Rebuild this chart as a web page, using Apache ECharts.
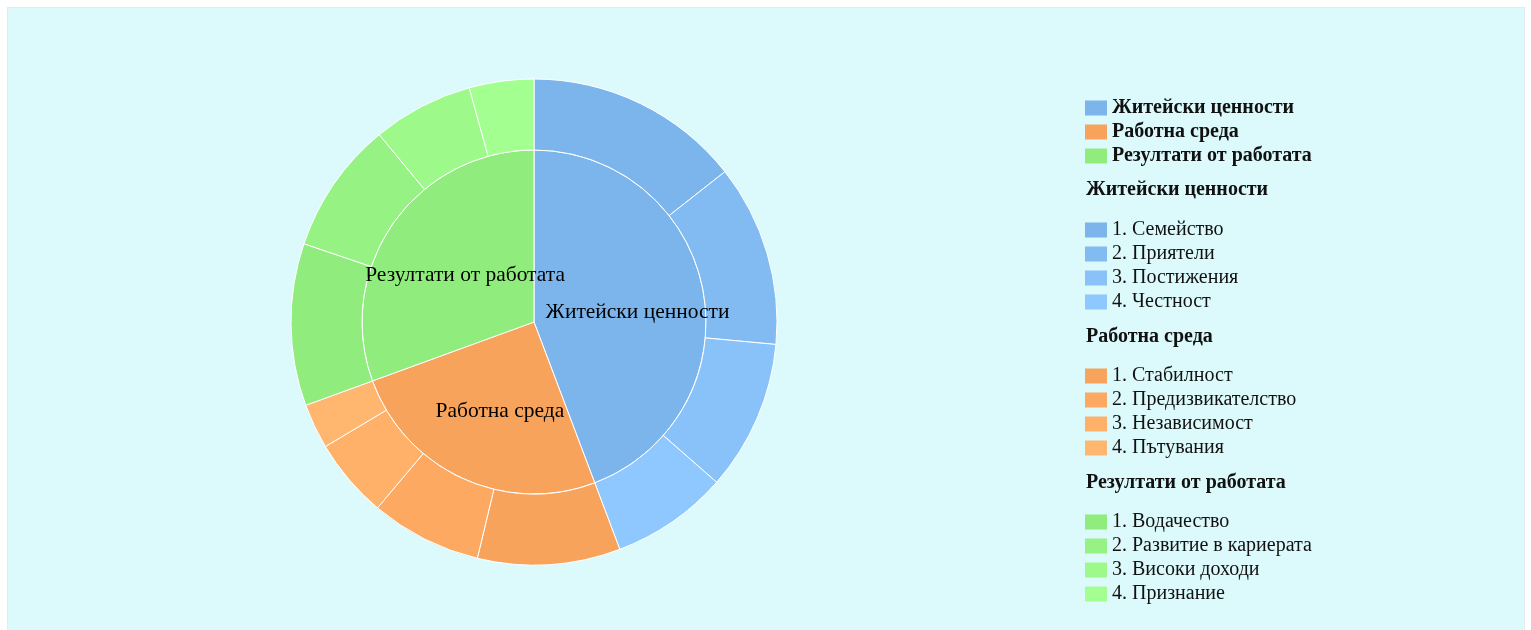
<!DOCTYPE html>
<html>
<head>
<meta charset="utf-8">
<script src="https://cdn.jsdelivr.net/npm/echarts@6/dist/echarts.min.js"></script>
<style>
    html, body { margin: 0; padding: 0; background: #fff; }
    #panel { position: absolute; left: 7px; top: 7px; width: 1516px; height: 640px;
             background: #dcfafc; border: 1px solid #e4ecee; }
    #chart { position: absolute; left: 0; top: 0; width: 1531px; height: 630px; }
</style>
</head>
<body>
<div id="panel"></div>
<div id="chart"></div>
<script>
// категории (вътрешен кръг)
var groupNames = ["Житейски ценности", "Работна среда", "Резултати от работата"];
var groupColors = ["#7cb5ec", "#f7a35c", "#90ed7d"];

// подкатегории (външен пръстен)
var subNames = [
    ["1. Семейство", "2. Приятели", "3. Постижения", "4. Честност"],
    ["1. Стабилност", "2. Предизвикателство", "3. Независимост", "4. Пътувания"],
    ["1. Водачество", "2. Развитие в кариерата", "3. Високи доходи", "4. Признание"]
];
var subValues = [
    [14.4, 12.1, 10.0, 7.8],
    [9.5, 7.4, 5.3, 3.0],
    [10.8, 8.8, 6.7, 4.3]
];

var FONT = "'Liberation Serif', 'DejaVu Serif', serif";

// изсветляване на цвета
var brighten = function(hex, step){
    var n = parseInt(hex.slice(1), 16);
    var rgb = [(n >> 16) & 255, (n >> 8) & 255, n & 255];
    var add = Math.round(255 * 0.025 * step);
    return "rgb(" + rgb.map(function(c){ return Math.min(255, c + add); }).join(",") + ")";
};

var innerData = [], outerData = [];
groupNames.forEach(function(g, i){
    var sum = 0;
    subValues[i].forEach(function(v, j){
        sum += v;
        outerData.push({ name: subNames[i][j], value: v, itemStyle: { color: brighten(groupColors[i], j) } });
    });
    innerData.push({ name: g, value: sum, itemStyle: { color: groupColors[i] } });
});

var legends = [{
    data: groupNames, top: 98, textStyle: { fontWeight: "bold" }
}];
var titles = [];
var headTops = [180, 327, 473];
var legendTops = [220, 366, 512];
groupNames.forEach(function(g, i){
    titles.push({ text: g, left: 1086, top: headTops[i], padding: 0,
        textStyle: { fontFamily: FONT, fontSize: 20, fontWeight: "bold", color: "#111", lineHeight: 20 } });
    legends.push({ data: subNames[i], top: legendTops[i] });
});
legends.forEach(function(l){
    l.orient = "vertical";
    l.left = 1085;
    l.padding = 0;
    l.itemWidth = 22;
    l.itemHeight = 15;
    l.itemGap = 4;
    l.icon = "rect";
    l.selectedMode = false;
    l.itemStyle = { borderWidth: 0 };
    l.textStyle = Object.assign({ fontFamily: FONT, fontSize: 20, color: "#111", lineHeight: 20 }, l.textStyle || {});
});

// сдвиг на надписите във вътрешния кръг
var labelShift = [[16, 6], [3, 8], [4, 4]];

var chart = echarts.init(document.getElementById("chart"));
chart.setOption({
    animation: false,
    title: titles,
    legend: legends,
    series: [
        {
            name: "inner",
            type: "pie",
            center: [534, 322],
            radius: [0, 172],
            avoidLabelOverlap: false,
            itemStyle: { borderColor: "#fff", borderWidth: 1 },
            label: { show: true, position: "inside", fontFamily: FONT, fontSize: 21.5, color: "#000" },
            labelLine: { show: false },
            labelLayout: function(params){
                var s = labelShift[params.dataIndex] || [0, 0];
                return { dx: s[0], dy: s[1] };
            },
            data: innerData
        },
        {
            name: "outer",
            type: "pie",
            center: [534, 322],
            radius: [172, 243],
            avoidLabelOverlap: false,
            itemStyle: { borderColor: "#fff", borderWidth: 1 },
            label: { show: false },
            labelLine: { show: false },
            data: outerData
        }
    ]
});
</script>
</body>
</html>
